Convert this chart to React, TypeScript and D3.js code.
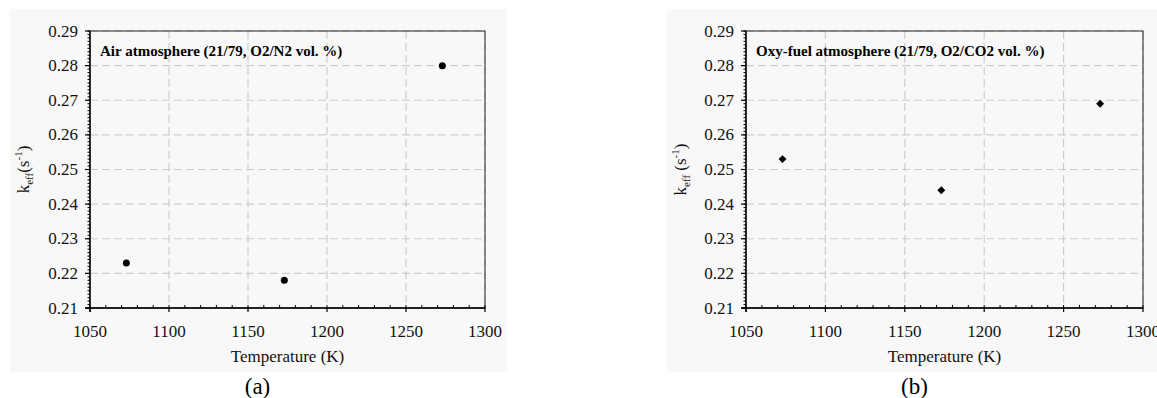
import React from "react";
import * as d3 from "d3";

const temperatures = [1073, 1173, 1273];
const airK = [0.223, 0.218, 0.28];
const oxyK = [0.253, 0.244, 0.269];
const xTicks = [1050, 1100, 1150, 1200, 1250, 1300];
const yTicks = [0.21, 0.22, 0.23, 0.24, 0.25, 0.26, 0.27, 0.28, 0.29];
const panelTitles = [
  "Air atmosphere (21/79, O2/N2 vol. %)",
  "Oxy-fuel atmosphere (21/79, O2/CO2 vol. %)",
];
const panelTags = ["(a)", "(b)"];

const FONT = "Liberation Serif";
const TOP = 31;
const BOTTOM = 308;

const panels = [
  { bgX: 10, left: 90, right: 485, values: airK, marker: "circle", ylabSpace: "" },
  { bgX: 667, left: 746, right: 1143, values: oxyK, marker: "diamond", ylabSpace: " " },
];

const Panel = ({ p, idx }) => {
  const x = d3.scaleLinear().domain([1050, 1300]).range([p.left, p.right]);
  const y = d3.scaleLinear().domain([0.21, 0.29]).range([BOTTOM, TOP]);
  const yMinor = d3.range(0, 81).map((i) => 0.21 + i * 0.001);
  const xMinor = d3.range(1050, 1301, 10);
  const cx = (p.left + p.right) / 2;
  const diamond = d3.symbol().type(d3.symbolDiamond2).size(40)();

  return (
    <g fontFamily={FONT}>
      <rect x={p.bgX} y={9} width={497} height={363} fill="#f8f8f8" />
      {yTicks.slice(1).map((d) => (
        <line key={"h" + d} x1={p.left} x2={p.right} y1={y(d)} y2={y(d)}
          stroke="#cdcdcd" strokeWidth={1.2} strokeDasharray="8,4" />
      ))}
      {xTicks.slice(1).map((d) => (
        <line key={"v" + d} x1={x(d)} x2={x(d)} y1={TOP} y2={BOTTOM}
          stroke="#cdcdcd" strokeWidth={1.2} strokeDasharray="8,4" />
      ))}
      <rect x={p.left} y={TOP} width={p.right - p.left} height={BOTTOM - TOP}
        fill="none" stroke="#222" strokeWidth={1} />
      <line x1={p.left} x2={p.left} y1={TOP} y2={BOTTOM + 4} stroke="#000" strokeWidth={1.4} />
      <line x1={p.left - 5} x2={p.right} y1={BOTTOM} y2={BOTTOM} stroke="#000" strokeWidth={1.4} />

      {yMinor.map((d, i) => (
        <line key={"ym" + i} x1={p.left - 2.5} x2={p.left} y1={y(d)} y2={y(d)} stroke="#000" strokeWidth={1} />
      ))}
      {yTicks.map((d) => (
        <g key={"yt" + d}>
          <line x1={p.left - 5} x2={p.left} y1={y(d)} y2={y(d)} stroke="#000" strokeWidth={1.2} />
          <text x={p.left - 12} y={y(d)} dy="0.33em" textAnchor="end" fontSize={17} fill="#111">
            {d3.format(".2f")(d)}
          </text>
        </g>
      ))}

      {xMinor.map((d) => (
        <line key={"xm" + d} x1={x(d)} x2={x(d)} y1={BOTTOM - 3} y2={BOTTOM} stroke="#000" strokeWidth={1} />
      ))}
      {xTicks.map((d) => (
        <g key={"xt" + d}>
          <line x1={x(d)} x2={x(d)} y1={BOTTOM} y2={BOTTOM + 4} stroke="#000" strokeWidth={1.2} />
          <text x={x(d)} y={337} textAnchor="middle" fontSize={17} fill="#111">{d}</text>
        </g>
      ))}

      <text x={p.left + 10} y={56} fontSize={15} fontWeight="bold" fill="#000">
        {panelTitles[idx]}
      </text>

      <text x={cx} y={362} textAnchor="middle" fontSize={17} fill="#111">Temperature (K)</text>

      <text transform={`translate(${p.bgX + 19},${(TOP + BOTTOM) / 2}) rotate(-90)`}
        textAnchor="middle" fontSize={17} fill="#111">
        <tspan>k</tspan>
        <tspan fontSize={11} dy={4}>eff</tspan>
        <tspan dy={-4}>{p.ylabSpace + "(s"}</tspan>
        <tspan fontSize={11} dy={-7}>-1</tspan>
        <tspan dy={7}>)</tspan>
      </text>

      <text x={cx - 30} y={394} textAnchor="middle" fontSize={23} fill="#000">{panelTags[idx]}</text>

      {temperatures.map((t, i) =>
        p.marker === "circle" ? (
          <circle key={"pt" + t} cx={x(t)} cy={y(p.values[i])} r={3.5} fill="#000" />
        ) : (
          <path key={"pt" + t} d={diamond} transform={`translate(${x(t)},${y(p.values[i])})`} fill="#000" />
        )
      )}
    </g>
  );
};

const App = () => (
  <svg width={1157} height={398} style={{ position: "absolute", left: 0, top: 0, background: "#fff" }}>
    {panels.map((p, i) => (
      <Panel key={i} p={p} idx={i} />
    ))}
  </svg>
);

export default App;
